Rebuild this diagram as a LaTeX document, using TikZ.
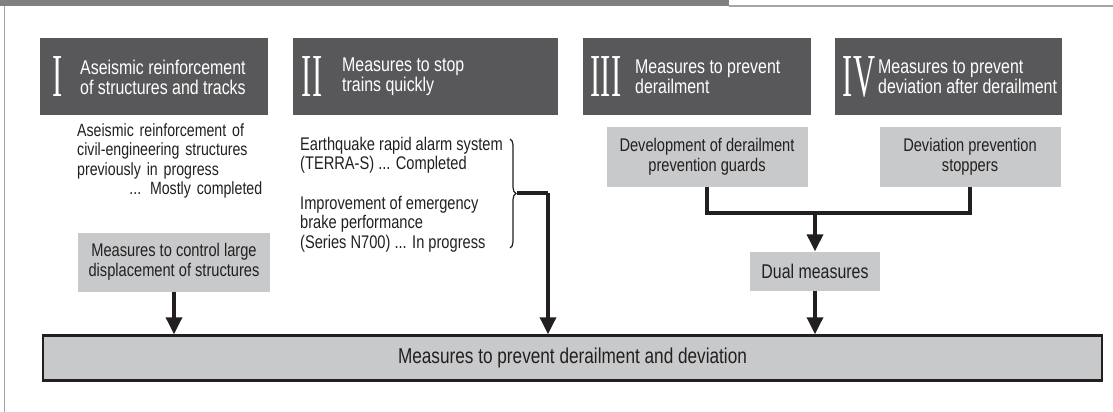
\documentclass[tikz,border=0pt]{standalone}
\usepackage{fontspec}
\setmainfont{Liberation Sans}[FakeStretch=0.8]
\newfontfamily\numfont{Liberation Serif}[FakeStretch=0.5]
\usetikzlibrary{arrows.meta,decorations.pathreplacing}
\definecolor{boxdark}{HTML}{58585A}
\definecolor{boxgray}{HTML}{C8C9CA}
\definecolor{ink}{HTML}{231F20}
\definecolor{band}{HTML}{808083}
\definecolor{frame}{HTML}{A5A5A7}
\begin{document}
\begin{tikzpicture}
  [x=1pt,y=-1pt,every node/.style={inner sep=0pt,text=ink,font=\fontsize{18.3}{19.5}\selectfont}]
  \tikzstyle{head} = [fill=boxdark,anchor=north west,minimum height=77]
  \tikzstyle{numeral} = [anchor=base,text=white,font=\numfont\fontsize{61}{61}\selectfont]
  \tikzstyle{title} = [anchor=west,align=left,text=white,font=\fontsize{19.9}{20}\selectfont]
  \tikzstyle{sub} = [fill=boxgray,align=center,font=\fontsize{18.3}{20}\selectfont]
  \tikzstyle{link} = [draw=ink,line width=3.5]
  \tikzstyle{arr} = [link,-{Triangle[width=16pt,length=17pt]}]
  \useasboundingbox (0,0) rectangle (1113,412);

  % header band and frame
  \fill[band] (0,0) rectangle (729,6);
  \fill[frame] (729,5.5) rectangle (1113,7.5);
  \fill[frame] (3.5,6) rectangle (5,412);

  % the four groups of measures
  \foreach \id/\x/\w/\num/\nx/\tx/\title in {
    1/40/228/I/58/80/{Aseismic reinforcement\\of structures and tracks},
    2/293/265/II/312/342/{Measures to stop\\trains quickly},
    3/583/228/III/606/635/{Measures to prevent\\derailment},
    4/835/227/IV/859/878/{Measures to prevent\\deviation after derailment}}
  {
    \node[head,minimum width=\w] (h\id) at (\x,38) {};
    \node[numeral] (r\id) at (\nx,96) {\num};
    \node[title] (t\id) at (\tx,77) {\title};
  }

  % I
  \node[anchor=north west,text width=185,align=left,font=\fontsize{17.7}{19.5}\selectfont] (a1) at (77,123)
    {Aseismic reinforcement of\\civil-engineering structures\\previously in progress\\\hspace*{\fill}... Mostly completed};
  \node[sub,minimum width=192,minimum height=59] (a2) at (174,262)
    {Measures to control large\\displacement of structures};

  % II
  \node[anchor=north west,align=left] (b1) at (300,137)
    {Earthquake rapid alarm system\\(TERRA-S) ... Completed};
  \node[anchor=north west,align=left] (b2) at (300,196)
    {Improvement of emergency\\brake performance\\(Series N700) ... In progress};
  \draw[ink,line width=1.2,decorate,decoration={brace,amplitude=6}] (510,139) -- (510,248);
  \coordinate (tip) at (517,193);
  \coordinate (turn) at (548,193);

  % III and IV
  \node[sub,minimum width=201,minimum height=60] (c1) at (707,157)
    {Development of derailment\\prevention guards};
  \node[sub,minimum width=181,minimum height=60] (d1) at (970,157)
    {Deviation prevention\\stoppers};
  \coordinate (join) at (815,213);
  \node[sub,minimum width=130,minimum height=39,font=\fontsize{19.9}{20}\selectfont] (dual) at (815,271) {Dual measures};

  % common goal
  \node[fill=boxgray,draw=ink,line width=2.5,minimum width=1059,minimum height=45,
    font=\fontsize{21.5}{21.5}\selectfont] (goal) at (572.5,358)
    {Measures to prevent derailment and deviation};

  \draw[link] (c1.south) |- (join) -| (d1.south);
  \draw[arr] (join) -- (dual.north);
  \draw[link] (tip) -- (turn);
  \foreach \src in {a2.south,turn,dual.south}
    \draw[arr] (\src) -- (\src |- goal.north);
\end{tikzpicture}
\end{document}
